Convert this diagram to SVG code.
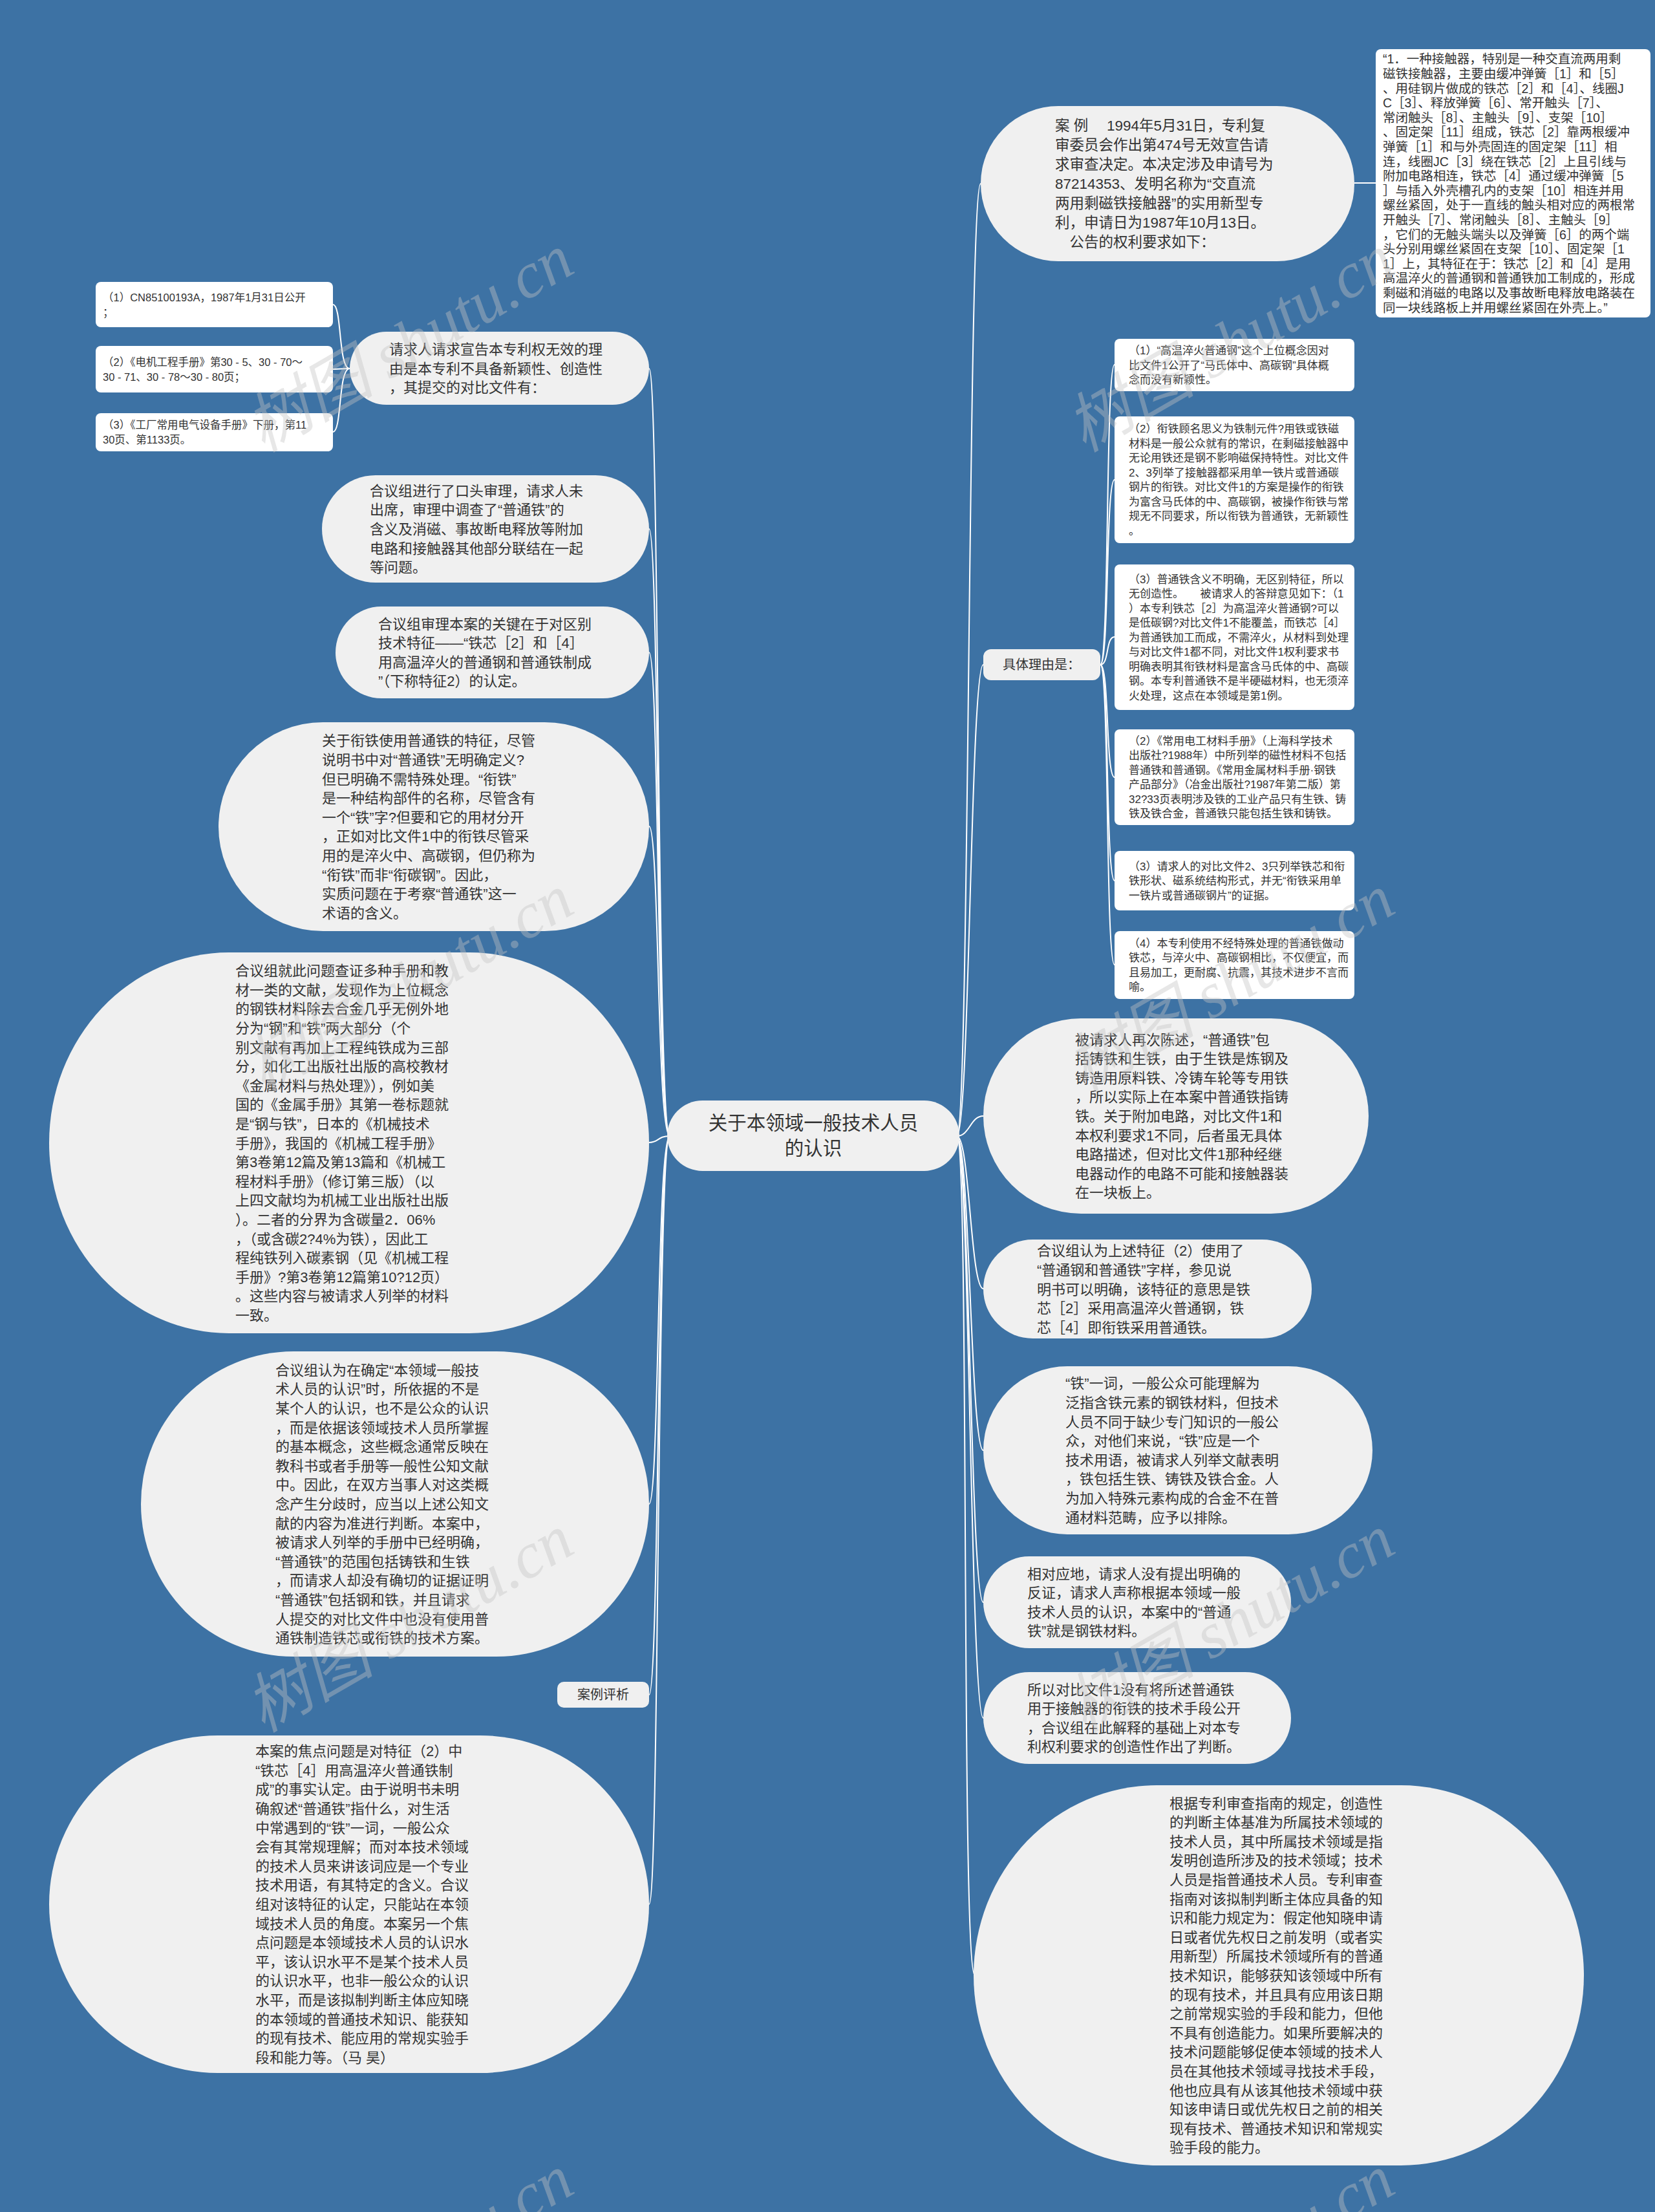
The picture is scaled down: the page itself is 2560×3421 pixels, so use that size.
<svg xmlns="http://www.w3.org/2000/svg" width="2560" height="3421" viewBox="0 0 2560 3421">
<style>
.n{fill:#f0f0f0}
.b{fill:#ffffff}
.c{fill:none;stroke:#ffffff;stroke-width:2}
.t{font-family:"Liberation Sans","Noto Sans CJK SC",sans-serif;fill:#333333;font-size:22px}
.s{font-family:"Liberation Sans","Noto Sans CJK SC",sans-serif;fill:#333333;font-size:17px}
.w{font-family:"Liberation Serif","Noto Sans CJK SC",serif;font-size:100px;fill:#c4c4c4;opacity:0.4;font-style:italic}
</style>
<rect width="2560" height="3421" fill="#3d72a4"/>
<g id="connectors">
<path class="c" d="M1036,1757 C1016,1757 1020,570 1004,570"/>
<path class="c" d="M1036,1757 C1016,1757 1020,818 1004,818"/>
<path class="c" d="M1036,1757 C1016,1757 1020,1009 1004,1009"/>
<path class="c" d="M1036,1757 C1016,1757 1020,1278 1004,1278"/>
<path class="c" d="M1036,1757 C1016,1757 1020,1767 1004,1767"/>
<path class="c" d="M1036,1757 C1016,1757 1020,2326 1004,2326"/>
<path class="c" d="M1036,1757 C1016,1757 1020,2621 1004,2621"/>
<path class="c" d="M1036,1757 C1016,1757 1020,2945 1004,2945"/>
<path class="c" d="M1480,1757 C1500,1757 1497,284 1517,284"/>
<path class="c" d="M1480,1757 C1500,1757 1501,1028 1521,1028"/>
<path class="c" d="M1480,1757 C1500,1757 1501,1726 1521,1726"/>
<path class="c" d="M1480,1757 C1500,1757 1501,1993 1521,1993"/>
<path class="c" d="M1480,1757 C1500,1757 1501,2243 1521,2243"/>
<path class="c" d="M1480,1757 C1500,1757 1501,2478 1521,2478"/>
<path class="c" d="M1480,1757 C1500,1757 1501,2657 1521,2657"/>
<path class="c" d="M1480,1757 C1500,1757 1486,3055 1508,3055"/>
<path class="c" d="M2095,283 L2128,283"/>
<path class="c" d="M541,570 C523,570 529,471 515,471"/>
<path class="c" d="M541,570 C523,570 529,571 515,571"/>
<path class="c" d="M541,570 C523,570 529,668 515,668"/>
<path class="c" d="M1702,1028 C1716,1028 1710,564 1724,564"/>
<path class="c" d="M1702,1028 C1716,1028 1710,742 1724,742"/>
<path class="c" d="M1702,1028 C1716,1028 1710,985 1724,985"/>
<path class="c" d="M1702,1028 C1716,1028 1710,1202 1724,1202"/>
<path class="c" d="M1702,1028 C1716,1028 1710,1362 1724,1362"/>
<path class="c" d="M1702,1028 C1716,1028 1710,1492 1724,1492"/>
</g>
<g id="center">
<rect class="n" x="1032" y="1702" width="452" height="109" rx="54.5" ry="54.5"/>
<text class="t" style="font-size:29.5px" text-anchor="middle"><tspan x="1258" y="1747">关于本领域一般技术人员</tspan><tspan x="1258" y="1786">的认识</tspan></text>
</g>
<g id="n-l1">
<rect class="n" x="541" y="513" width="463" height="113" rx="56.5" ry="56.5"/>
<text class="t"><tspan x="602" y="547.9">请求人请求宣告本专利权无效的理</tspan><tspan x="602" dy="29.6">由是本专利不具备新颖性、创造性</tspan><tspan x="602" dy="29.6">，其提交的对比文件有：</tspan></text>
</g>
<g id="n-l1a">
<rect class="b" x="148" y="436" width="367" height="70" rx="8"/>
<text class="s" style="font-size:16.5px"><tspan x="159" y="465.5">（1）CN85100193A，1987年1月31日公开</tspan><tspan x="159" dy="23">；</tspan></text>
</g>
<g id="n-l1b">
<rect class="b" x="148" y="535" width="367" height="72" rx="8"/>
<text class="s" style="font-size:16.5px"><tspan x="159" y="565.5">（2）《电机工程手册》第30 - 5、30 - 70～</tspan><tspan x="159" dy="23">30 - 71、30 - 78～30 - 80页；</tspan></text>
</g>
<g id="n-l1c">
<rect class="b" x="148" y="639" width="367" height="59" rx="8"/>
<text class="s" style="font-size:16.5px"><tspan x="159" y="663">（3）《工厂常用电气设备手册》下册，第11</tspan><tspan x="159" dy="23">30页、第1133页。</tspan></text>
</g>
<g id="n-l2">
<rect class="n" x="498" y="735" width="506" height="166" rx="83" ry="83"/>
<text class="t"><tspan x="572" y="766.8">合议组进行了口头审理，请求人未</tspan><tspan x="572" dy="29.6">出席，审理中调查了“普通铁”的</tspan><tspan x="572" dy="29.6">含义及消磁、事故断电释放等附加</tspan><tspan x="572" dy="29.6">电路和接触器其他部分联结在一起</tspan><tspan x="572" dy="29.6">等问题。</tspan></text>
</g>
<g id="n-l3">
<rect class="n" x="519" y="938" width="485" height="142" rx="71" ry="71"/>
<text class="t"><tspan x="585" y="972.6">合议组审理本案的关键在于对区别</tspan><tspan x="585" dy="29.6">技术特征——“铁芯［2］和［4］</tspan><tspan x="585" dy="29.6">用高温淬火的普通钢和普通铁制成</tspan><tspan x="585" dy="29.6">”（下称特征2）的认定。</tspan></text>
</g>
<g id="n-l4">
<rect class="n" x="338" y="1117" width="666" height="323" rx="161.5" ry="161.5"/>
<text class="t"><tspan x="498" y="1153.3">关于衔铁使用普通铁的特征，尽管</tspan><tspan x="498" dy="29.6">说明书中对“普通铁”无明确定义?</tspan><tspan x="498" dy="29.6">但已明确不需特殊处理。“衔铁”</tspan><tspan x="498" dy="29.6">是一种结构部件的名称，尽管含有</tspan><tspan x="498" dy="29.6">一个“铁”字?但要和它的用材分开</tspan><tspan x="498" dy="29.6">，正如对比文件1中的衔铁尽管采</tspan><tspan x="498" dy="29.6">用的是淬火中、高碳钢，但仍称为</tspan><tspan x="498" dy="29.6">“衔铁”而非“衔碳钢”。因此，</tspan><tspan x="498" dy="29.6">实质问题在于考察“普通铁”这一</tspan><tspan x="498" dy="29.6">术语的含义。</tspan></text>
</g>
<g id="n-l5">
<rect class="n" x="76" y="1473" width="928" height="589" rx="278" ry="294.5"/>
<text class="t"><tspan x="364" y="1509.1">合议组就此问题查证多种手册和教</tspan><tspan x="364" dy="29.6">材一类的文献，发现作为上位概念</tspan><tspan x="364" dy="29.6">的钢铁材料除去合金几乎无例外地</tspan><tspan x="364" dy="29.6">分为“钢”和“铁”两大部分（个</tspan><tspan x="364" dy="29.6">别文献有再加上工程纯铁成为三部</tspan><tspan x="364" dy="29.6">分，如化工出版社出版的高校教材</tspan><tspan x="364" dy="29.6">《金属材料与热处理》），例如美</tspan><tspan x="364" dy="29.6">国的《金属手册》其第一卷标题就</tspan><tspan x="364" dy="29.6">是“钢与铁”，日本的《机械技术</tspan><tspan x="364" dy="29.6">手册》，我国的《机械工程手册》</tspan><tspan x="364" dy="29.6">第3卷第12篇及第13篇和《机械工</tspan><tspan x="364" dy="29.6">程材料手册》（修订第三版）（以</tspan><tspan x="364" dy="29.6">上四文献均为机械工业出版社出版</tspan><tspan x="364" dy="29.6">）。二者的分界为含碳量2．06%</tspan><tspan x="364" dy="29.6">，（或含碳2?4%为铁），因此工</tspan><tspan x="364" dy="29.6">程纯铁列入碳素钢（见《机械工程</tspan><tspan x="364" dy="29.6">手册》?第3卷第12篇第10?12页）</tspan><tspan x="364" dy="29.6">。这些内容与被请求人列举的材料</tspan><tspan x="364" dy="29.6">一致。</tspan></text>
</g>
<g id="n-l6">
<rect class="n" x="218" y="2090" width="786" height="472" rx="236" ry="236"/>
<text class="t"><tspan x="426" y="2126.8">合议组认为在确定“本领域一般技</tspan><tspan x="426" dy="29.6">术人员的认识”时，所依据的不是</tspan><tspan x="426" dy="29.6">某个人的认识，也不是公众的认识</tspan><tspan x="426" dy="29.6">，而是依据该领域技术人员所掌握</tspan><tspan x="426" dy="29.6">的基本概念，这些概念通常反映在</tspan><tspan x="426" dy="29.6">教科书或者手册等一般性公知文献</tspan><tspan x="426" dy="29.6">中。因此，在双方当事人对这类概</tspan><tspan x="426" dy="29.6">念产生分歧时，应当以上述公知文</tspan><tspan x="426" dy="29.6">献的内容为准进行判断。本案中，</tspan><tspan x="426" dy="29.6">被请求人列举的手册中已经明确，</tspan><tspan x="426" dy="29.6">“普通铁”的范围包括铸铁和生铁</tspan><tspan x="426" dy="29.6">，而请求人却没有确切的证据证明</tspan><tspan x="426" dy="29.6">“普通铁”包括钢和铁，并且请求</tspan><tspan x="426" dy="29.6">人提交的对比文件中也没有使用普</tspan><tspan x="426" dy="29.6">通铁制造铁芯或衔铁的技术方案。</tspan></text>
</g>
<g id="n-l7">
<rect class="n" x="862" y="2601" width="142" height="40" rx="10"/>
<text class="t" style="font-size:20px" text-anchor="middle" x="933" y="2628">案例评析</text>
</g>
<g id="n-l8">
<rect class="n" x="76" y="2684" width="928" height="522" rx="261" ry="261"/>
<text class="t"><tspan x="395" y="2716.2">本案的焦点问题是对特征（2）中</tspan><tspan x="395" dy="29.6">“铁芯［4］用高温淬火普通铁制</tspan><tspan x="395" dy="29.6">成”的事实认定。由于说明书未明</tspan><tspan x="395" dy="29.6">确叙述“普通铁”指什么，对生活</tspan><tspan x="395" dy="29.6">中常遇到的“铁”一词，一般公众</tspan><tspan x="395" dy="29.6">会有其常规理解；而对本技术领域</tspan><tspan x="395" dy="29.6">的技术人员来讲该词应是一个专业</tspan><tspan x="395" dy="29.6">技术用语，有其特定的含义。合议</tspan><tspan x="395" dy="29.6">组对该特征的认定，只能站在本领</tspan><tspan x="395" dy="29.6">域技术人员的角度。本案另一个焦</tspan><tspan x="395" dy="29.6">点问题是本领域技术人员的认识水</tspan><tspan x="395" dy="29.6">平，该认识水平不是某个技术人员</tspan><tspan x="395" dy="29.6">的认识水平，也非一般公众的认识</tspan><tspan x="395" dy="29.6">水平，而是该拟制判断主体应知晓</tspan><tspan x="395" dy="29.6">的本领域的普通技术知识、能获知</tspan><tspan x="395" dy="29.6">的现有技术、能应用的常规实验手</tspan><tspan x="395" dy="29.6">段和能力等。（马 昊）</tspan></text>
</g>
<g id="n-r1">
<rect class="n" x="1517" y="164" width="578" height="240" rx="120" ry="120"/>
<text class="t" style="font-size:22.5px" xml:space="preserve"><tspan x="1632" y="202">案 例　 1994年5月31日，专利复</tspan><tspan x="1632" dy="30">审委员会作出第474号无效宣告请</tspan><tspan x="1632" dy="30">求审查决定。本决定涉及申请号为</tspan><tspan x="1632" dy="30">87214353、发明名称为“交直流</tspan><tspan x="1632" dy="30">两用剩磁铁接触器”的实用新型专</tspan><tspan x="1632" dy="30">利，申请日为1987年10月13日。</tspan><tspan x="1632" dy="30">　公告的权利要求如下：</tspan></text>
</g>
<g id="n-r1a">
<rect class="b" x="2128" y="76" width="425" height="415" rx="8"/>
<text class="s" style="font-size:19.5px"><tspan x="2139" y="98.4">“1．一种接触器，特别是一种交直流两用剩</tspan><tspan x="2139" dy="22.6">磁铁接触器，主要由缓冲弹簧［1］和［5］</tspan><tspan x="2139" dy="22.6">、用硅钢片做成的铁芯［2］和［4］、线圈J</tspan><tspan x="2139" dy="22.6">C［3］、释放弹簧［6］、常开触头［7］、</tspan><tspan x="2139" dy="22.6">常闭触头［8］、主触头［9］、支架［10］</tspan><tspan x="2139" dy="22.6">、固定架［11］组成，铁芯［2］靠两根缓冲</tspan><tspan x="2139" dy="22.6">弹簧［1］和与外壳固连的固定架［11］相</tspan><tspan x="2139" dy="22.6">连，线圈JC［3］绕在铁芯［2］上且引线与</tspan><tspan x="2139" dy="22.6">附加电路相连，铁芯［4］通过缓冲弹簧［5</tspan><tspan x="2139" dy="22.6">］与插入外壳槽孔内的支架［10］相连并用</tspan><tspan x="2139" dy="22.6">螺丝紧固，处于一直线的触头相对应的两根常</tspan><tspan x="2139" dy="22.6">开触头［7］、常闭触头［8］、主触头［9］</tspan><tspan x="2139" dy="22.6">，它们的无触头端头以及弹簧［6］的两个端</tspan><tspan x="2139" dy="22.6">头分别用螺丝紧固在支架［10］、固定架［1</tspan><tspan x="2139" dy="22.6">1］上，其特征在于：铁芯［2］和［4］是用</tspan><tspan x="2139" dy="22.6">高温淬火的普通钢和普通铁加工制成的，形成</tspan><tspan x="2139" dy="22.6">剩磁和消磁的电路以及事故断电释放电路装在</tspan><tspan x="2139" dy="22.6">同一块线路板上并用螺丝紧固在外壳上。”</tspan></text>
</g>
<g id="n-r2">
<rect class="n" x="1521" y="1004" width="181" height="48" rx="12"/>
<text class="t" style="font-size:20px" text-anchor="middle" x="1611" y="1035">具体理由是：</text>
</g>
<g id="n-b1">
<rect class="b" x="1724" y="524" width="371" height="81" rx="8"/>
<text class="s"><tspan x="1746" y="548">（1）“高温淬火普通钢”这个上位概念因对</tspan><tspan x="1746" dy="22.5">比文件1公开了“马氏体中、高碳钢”具体概</tspan><tspan x="1746" dy="22.5">念而没有新颖性。</tspan></text>
</g>
<g id="n-b2">
<rect class="b" x="1724" y="644" width="371" height="196" rx="8"/>
<text class="s"><tspan x="1746" y="669.3">（2）衔铁顾名思义为铁制元件?用铁或铁磁</tspan><tspan x="1746" dy="22.5">材料是一般公众就有的常识，在剩磁接触器中</tspan><tspan x="1746" dy="22.5">无论用铁还是钢不影响磁保持特性。对比文件</tspan><tspan x="1746" dy="22.5">2、3列举了接触器都采用单一铁片或普通碳</tspan><tspan x="1746" dy="22.5">钢片的衔铁。对比文件1的方案是操作的衔铁</tspan><tspan x="1746" dy="22.5">为富含马氏体的中、高碳钢，被操作衔铁与常</tspan><tspan x="1746" dy="22.5">规无不同要求，所以衔铁为普通铁，无新颖性</tspan><tspan x="1746" dy="22.5">。</tspan></text>
</g>
<g id="n-b3">
<rect class="b" x="1724" y="873" width="371" height="225" rx="8"/>
<text class="s" xml:space="preserve"><tspan x="1746" y="901.5">（3）普通铁含义不明确，无区别特征，所以</tspan><tspan x="1746" dy="22.5">无创造性。　　被请求人的答辩意见如下：（1</tspan><tspan x="1746" dy="22.5">）本专利铁芯［2］为高温淬火普通钢?可以</tspan><tspan x="1746" dy="22.5">是低碳钢?对比文件1不能覆盖，而铁芯［4］</tspan><tspan x="1746" dy="22.5">为普通铁加工而成，不需淬火，从材料到处理</tspan><tspan x="1746" dy="22.5">与对比文件1都不同，对比文件1权利要求书</tspan><tspan x="1746" dy="22.5">明确表明其衔铁材料是富含马氏体的中、高碳</tspan><tspan x="1746" dy="22.5">钢。本专利普通铁不是半硬磁材料，也无须淬</tspan><tspan x="1746" dy="22.5">火处理，这点在本领域是第1例。</tspan></text>
</g>
<g id="n-b4">
<rect class="b" x="1724" y="1128" width="371" height="148" rx="8"/>
<text class="s"><tspan x="1746" y="1151.8">（2）《常用电工材料手册》（上海科学技术</tspan><tspan x="1746" dy="22.5">出版社?1988年）中所列举的磁性材料不包括</tspan><tspan x="1746" dy="22.5">普通铁和普通钢。《常用金属材料手册·钢铁</tspan><tspan x="1746" dy="22.5">产品部分》（冶金出版社?1987年第二版）第</tspan><tspan x="1746" dy="22.5">32?33页表明涉及铁的工业产品只有生铁、铸</tspan><tspan x="1746" dy="22.5">铁及铁合金，普通铁只能包括生铁和铸铁。</tspan></text>
</g>
<g id="n-b5">
<rect class="b" x="1724" y="1316" width="371" height="92" rx="8"/>
<text class="s"><tspan x="1746" y="1345.5">（3）请求人的对比文件2、3只列举铁芯和衔</tspan><tspan x="1746" dy="22.5">铁形状、磁系统结构形式，并无“衔铁采用单</tspan><tspan x="1746" dy="22.5">一铁片或普通碳钢片”的证据。</tspan></text>
</g>
<g id="n-b6">
<rect class="b" x="1724" y="1440" width="371" height="105" rx="8"/>
<text class="s"><tspan x="1746" y="1464.8">（4）本专利使用不经特殊处理的普通铁做动</tspan><tspan x="1746" dy="22.5">铁芯，与淬火中、高碳钢相比，不仅便宜，而</tspan><tspan x="1746" dy="22.5">且易加工，更耐腐、抗震，其技术进步不言而</tspan><tspan x="1746" dy="22.5">喻。</tspan></text>
</g>
<g id="n-r3">
<rect class="n" x="1521" y="1575" width="596" height="302" rx="151" ry="151"/>
<text class="t"><tspan x="1663" y="1615.6">被请求人再次陈述，“普通铁”包</tspan><tspan x="1663" dy="29.6">括铸铁和生铁，由于生铁是炼钢及</tspan><tspan x="1663" dy="29.6">铸造用原料铁、冷铸车轮等专用铁</tspan><tspan x="1663" dy="29.6">，所以实际上在本案中普通铁指铸</tspan><tspan x="1663" dy="29.6">铁。关于附加电路，对比文件1和</tspan><tspan x="1663" dy="29.6">本权利要求1不同，后者虽无具体</tspan><tspan x="1663" dy="29.6">电路描述，但对比文件1那种经继</tspan><tspan x="1663" dy="29.6">电器动作的电路不可能和接触器装</tspan><tspan x="1663" dy="29.6">在一块板上。</tspan></text>
</g>
<g id="n-r4">
<rect class="n" x="1521" y="1917" width="508" height="153" rx="76.5" ry="76.5"/>
<text class="t"><tspan x="1604" y="1942.3">合议组认为上述特征（2）使用了</tspan><tspan x="1604" dy="29.6">“普通钢和普通铁”字样，参见说</tspan><tspan x="1604" dy="29.6">明书可以明确，该特征的意思是铁</tspan><tspan x="1604" dy="29.6">芯［2］采用高温淬火普通钢，铁</tspan><tspan x="1604" dy="29.6">芯［4］即衔铁采用普通铁。</tspan></text>
</g>
<g id="n-r5">
<rect class="n" x="1521" y="2113" width="602" height="260" rx="130" ry="130"/>
<text class="t"><tspan x="1648" y="2147.4">“铁”一词，一般公众可能理解为</tspan><tspan x="1648" dy="29.6">泛指含铁元素的钢铁材料，但技术</tspan><tspan x="1648" dy="29.6">人员不同于缺少专门知识的一般公</tspan><tspan x="1648" dy="29.6">众，对他们来说，“铁”应是一个</tspan><tspan x="1648" dy="29.6">技术用语，被请求人列举文献表明</tspan><tspan x="1648" dy="29.6">，铁包括生铁、铸铁及铁合金。人</tspan><tspan x="1648" dy="29.6">为加入特殊元素构成的合金不在普</tspan><tspan x="1648" dy="29.6">通材料范畴，应予以排除。</tspan></text>
</g>
<g id="n-r6">
<rect class="n" x="1521" y="2407" width="476" height="142" rx="71" ry="71"/>
<text class="t"><tspan x="1589" y="2441.6">相对应地，请求人没有提出明确的</tspan><tspan x="1589" dy="29.6">反证，请求人声称根据本领域一般</tspan><tspan x="1589" dy="29.6">技术人员的认识，本案中的“普通</tspan><tspan x="1589" dy="29.6">铁”就是钢铁材料。</tspan></text>
</g>
<g id="n-r7">
<rect class="n" x="1521" y="2586" width="476" height="142" rx="71" ry="71"/>
<text class="t"><tspan x="1589" y="2620.6">所以对比文件1没有将所述普通铁</tspan><tspan x="1589" dy="29.6">用于接触器的衔铁的技术手段公开</tspan><tspan x="1589" dy="29.6">，合议组在此解释的基础上对本专</tspan><tspan x="1589" dy="29.6">利权利要求的创造性作出了判断。</tspan></text>
</g>
<g id="n-r8">
<rect class="n" x="1506" y="2761" width="944" height="588" rx="283" ry="294"/>
<text class="t"><tspan x="1809" y="2796.6">根据专利审查指南的规定，创造性</tspan><tspan x="1809" dy="29.6">的判断主体基准为所属技术领域的</tspan><tspan x="1809" dy="29.6">技术人员，其中所属技术领域是指</tspan><tspan x="1809" dy="29.6">发明创造所涉及的技术领域；技术</tspan><tspan x="1809" dy="29.6">人员是指普通技术人员。专利审查</tspan><tspan x="1809" dy="29.6">指南对该拟制判断主体应具备的知</tspan><tspan x="1809" dy="29.6">识和能力规定为：假定他知晓申请</tspan><tspan x="1809" dy="29.6">日或者优先权日之前发明（或者实</tspan><tspan x="1809" dy="29.6">用新型）所属技术领域所有的普通</tspan><tspan x="1809" dy="29.6">技术知识，能够获知该领域中所有</tspan><tspan x="1809" dy="29.6">的现有技术，并且具有应用该日期</tspan><tspan x="1809" dy="29.6">之前常规实验的手段和能力，但他</tspan><tspan x="1809" dy="29.6">不具有创造能力。如果所要解决的</tspan><tspan x="1809" dy="29.6">技术问题能够促使本领域的技术人</tspan><tspan x="1809" dy="29.6">员在其他技术领域寻找技术手段，</tspan><tspan x="1809" dy="29.6">他也应具有从该其他技术领域中获</tspan><tspan x="1809" dy="29.6">知该申请日或优先权日之前的相关</tspan><tspan x="1809" dy="29.6">现有技术、普通技术知识和常规实</tspan><tspan x="1809" dy="29.6">验手段的能力。</tspan></text>
</g>
<g id="watermarks">
<text class="w" text-anchor="middle" transform="translate(650,560) rotate(-30)">树图 shutu.cn</text>
<text class="w" text-anchor="middle" transform="translate(1920,560) rotate(-30)">树图 shutu.cn</text>
<text class="w" text-anchor="middle" transform="translate(650,1550) rotate(-30)">树图 shutu.cn</text>
<text class="w" text-anchor="middle" transform="translate(1920,1550) rotate(-30)">树图 shutu.cn</text>
<text class="w" text-anchor="middle" transform="translate(650,2540) rotate(-30)">树图 shutu.cn</text>
<text class="w" text-anchor="middle" transform="translate(1920,2540) rotate(-30)">树图 shutu.cn</text>
<text class="w" text-anchor="middle" transform="translate(650,3530) rotate(-30)">树图 shutu.cn</text>
<text class="w" text-anchor="middle" transform="translate(1920,3530) rotate(-30)">树图 shutu.cn</text>
</g>
</svg>
